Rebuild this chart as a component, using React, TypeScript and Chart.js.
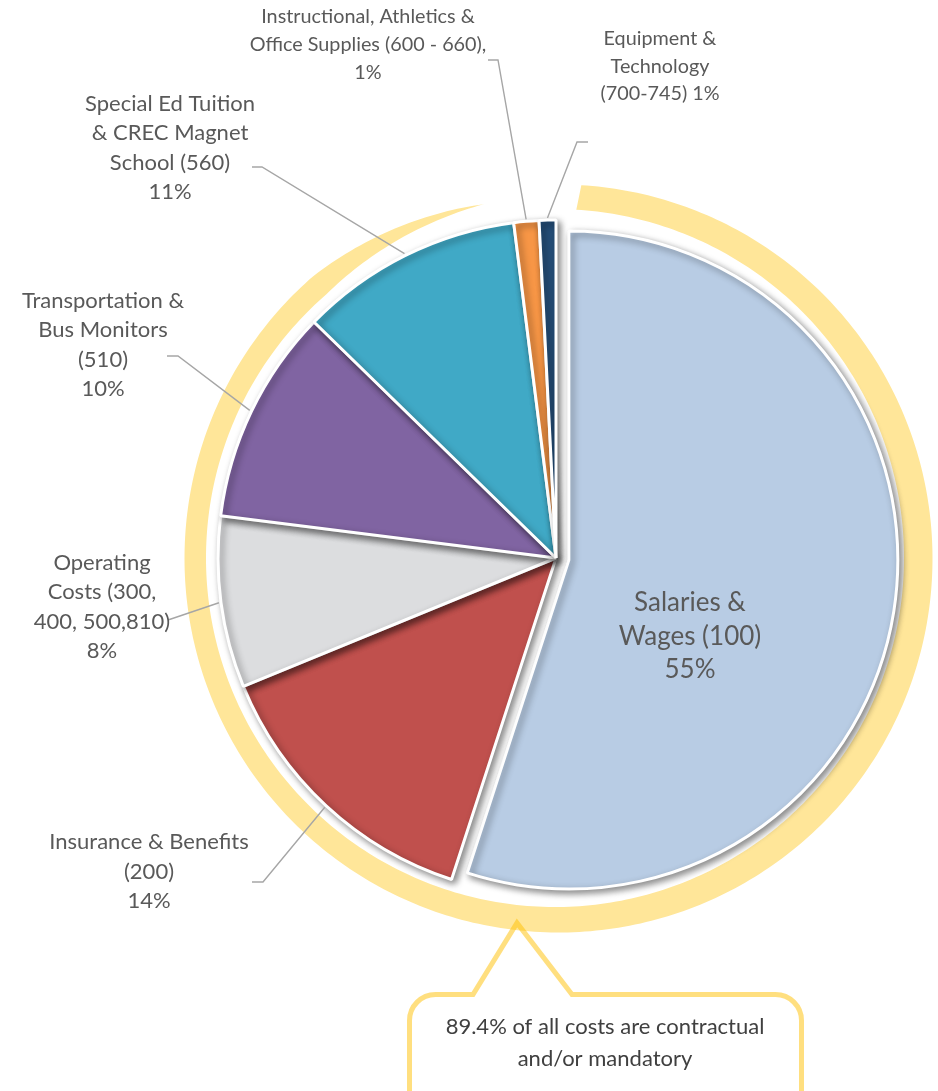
import React, { useEffect, useRef } from "react";
import { Chart, registerables } from "chart.js";

Chart.register(...registerables);

const W = 938;
const H = 1091;

// ---- data ----
const categories: string[][] = [
  ["Salaries &", "Wages (100)"],
  ["Insurance & Benefits", "(200)"],
  ["Operating", "Costs (300,", "400, 500,810)"],
  ["Transportation &", "Bus Monitors", "(510)"],
  ["Special Ed Tuition", "& CREC Magnet", "School (560)"],
  ["Instructional, Athletics &", "Office Supplies (600 - 660),"],
  ["Equipment &", "Technology", "(700-745)"],
];
const values = [55.0, 13.8, 8.2, 10.3, 10.7, 1.2, 0.8];
const sliceColors = ["#B8CCE4", "#C0504D", "#DCDDDF", "#8064A2", "#40A9C6", "#F79646", "#254E78"];
const calloutLines = ["89.4% of all costs are contractual", "and/or mandatory"];

// ---- layout / style ----
const FONT = "Lato, 'Noto Sans', sans-serif";
const LABEL_COLOR = "#595959";
const LEADER_COLOR = "#A6A6A6";
const PIE_RADIUS = 338;
const EXPLODE_INDEX = 0;
const EXPLODE_PX = 13;
const EXPLODE_SHRINK = 9;

type Lay = { x: number; y: number; lh: number; size: number; inline?: boolean; elbow?: number[][] };
const labelLayout: Lay[] = [
  { x: 690, y: 603, lh: 33.5, size: 26 },
  { x: 149, y: 842, lh: 29.5, size: 22, elbow: [[252, 882], [263, 882]] },
  { x: 102, y: 563, lh: 29.3, size: 22, elbow: [[168, 620]] },
  { x: 103, y: 301, lh: 29.3, size: 22, elbow: [[167, 356], [178, 356]] },
  { x: 170, y: 104, lh: 29.3, size: 22, elbow: [[252, 167], [262, 167]] },
  { x: 368, y: 17, lh: 28, size: 19.8, elbow: [[488, 60], [498, 60]] },
  { x: 660, y: 39, lh: 27.5, size: 19.8, inline: true, elbow: [[588, 142], [577, 142]] },
];

const RING = {
  color: "#FFE699",
  outerDx: 2.5, outerDy: 0.5, outerR: PIE_RADIUS + 36,
  innerDx: -1, innerDy: 0, innerR: PIE_RADIUS + 11,
  startDeg: 3.5, taperDeg: 319, endDeg: 348.4,
};

const CALLOUT = {
  left: 409.5, top: 994.5, right: 801.5, bottom: 1130, r: 26,
  ptrLeft: 473, ptrRight: 572, apexX: 517, apexY: 923,
  stroke: "rgba(255,192,0,0.5)", lineWidth: 5,
  textX: 605, textY: 1027, lh: 32, size: 22, color: "#404040",
};

function dir(deg: number) {
  const a = (deg * Math.PI) / 180;
  return [Math.sin(a), -Math.cos(a)];
}

function drawRing(chart: any) {
  const ctx = chart.ctx as CanvasRenderingContext2D;
  const ca = chart.chartArea;
  const cx = (ca.left + ca.right) / 2;
  const cy = (ca.top + ca.bottom) / 2;
  const outer: number[][] = [];
  const inner: number[][] = [];
  const steps = 400;
  for (let i = 0; i <= steps; i++) {
    const deg = RING.startDeg + ((RING.endDeg - RING.startDeg) * i) / steps;
    const [dx, dy] = dir(deg);
    const po = [cx + RING.outerDx + dx * RING.outerR, cy + RING.outerDy + dy * RING.outerR];
    const pi = [cx + RING.innerDx + dx * RING.innerR, cy + RING.innerDy + dy * RING.innerR];
    let t = 1;
    if (deg > RING.taperDeg) t = Math.max(0, (RING.endDeg - deg) / (RING.endDeg - RING.taperDeg));
    const m = [(po[0] + pi[0]) / 2, (po[1] + pi[1]) / 2];
    outer.push([m[0] + (po[0] - m[0]) * t, m[1] + (po[1] - m[1]) * t]);
    inner.push([m[0] + (pi[0] - m[0]) * t, m[1] + (pi[1] - m[1]) * t]);
  }
  ctx.save();
  ctx.beginPath();
  outer.forEach((p, i) => (i === 0 ? ctx.moveTo(p[0], p[1]) : ctx.lineTo(p[0], p[1])));
  for (let i = inner.length - 1; i >= 0; i--) ctx.lineTo(inner[i][0], inner[i][1]);
  ctx.closePath();
  ctx.fillStyle = RING.color;
  ctx.fill();
  ctx.restore();
}

function drawLabels(chart: any) {
  const ctx = chart.ctx as CanvasRenderingContext2D;
  const meta = chart.getDatasetMeta(0);
  const total = values.reduce((a, b) => a + b, 0);
  ctx.save();
  labelLayout.forEach((lay, i) => {
    const el: any = meta.data[i];
    if (lay.elbow && el) {
      const mid = (el.startAngle + el.endAngle) / 2;
      const r = el.outerRadius + 2;
      const ex = el.x + Math.cos(mid) * r;
      const ey = el.y + Math.sin(mid) * r;
      ctx.beginPath();
      ctx.moveTo(lay.elbow[0][0], lay.elbow[0][1]);
      for (let k = 1; k < lay.elbow.length; k++) ctx.lineTo(lay.elbow[k][0], lay.elbow[k][1]);
      ctx.lineTo(ex, ey);
      ctx.strokeStyle = LEADER_COLOR;
      ctx.lineWidth = 1.4;
      ctx.stroke();
    }
    const pct = Math.round((values[i] / total) * 100) + "%";
    const lines = [...categories[i]];
    if (lay.inline) lines[lines.length - 1] += " " + pct;
    else lines.push(pct);
    ctx.font = `${lay.size}px ${FONT}`;
    ctx.fillStyle = LABEL_COLOR;
    ctx.textAlign = "center";
    ctx.textBaseline = "middle";
    lines.forEach((t, k) => ctx.fillText(t, lay.x, lay.y + k * lay.lh));
  });
  ctx.restore();
}

function drawCallout(chart: any) {
  const ctx = chart.ctx as CanvasRenderingContext2D;
  const c = CALLOUT;
  ctx.save();
  ctx.beginPath();
  ctx.moveTo(c.left + c.r, c.top);
  ctx.lineTo(c.ptrLeft, c.top);
  ctx.lineTo(c.apexX, c.apexY);
  ctx.lineTo(c.ptrRight, c.top);
  ctx.lineTo(c.right - c.r, c.top);
  ctx.arcTo(c.right, c.top, c.right, c.top + c.r, c.r);
  ctx.lineTo(c.right, c.bottom - c.r);
  ctx.arcTo(c.right, c.bottom, c.right - c.r, c.bottom, c.r);
  ctx.lineTo(c.left + c.r, c.bottom);
  ctx.arcTo(c.left, c.bottom, c.left, c.bottom - c.r, c.r);
  ctx.lineTo(c.left, c.top + c.r);
  ctx.arcTo(c.left, c.top, c.left + c.r, c.top, c.r);
  ctx.closePath();
  ctx.strokeStyle = c.stroke;
  ctx.lineWidth = c.lineWidth;
  ctx.lineJoin = "miter";
  ctx.stroke();
  ctx.font = `${c.size}px ${FONT}`;
  ctx.fillStyle = c.color;
  ctx.textAlign = "center";
  ctx.textBaseline = "middle";
  calloutLines.forEach((t, k) => ctx.fillText(t, c.textX, c.textY + k * c.lh));
  ctx.restore();
}

const decorPlugin = {
  id: "decor",
  afterDatasetsUpdate(chart: any) {
    const meta = chart.getDatasetMeta(0);
    const el: any = meta.data[EXPLODE_INDEX];
    if (!el) return;
    const mid = (el.startAngle + el.endAngle) / 2;
    el.x += Math.cos(mid) * EXPLODE_PX;
    el.y += Math.sin(mid) * EXPLODE_PX;
    el.outerRadius -= EXPLODE_SHRINK;
  },
  beforeDatasetsDraw(chart: any) {
    drawRing(chart);
  },
  beforeDatasetDraw(chart: any) {
    const ctx = chart.ctx as CanvasRenderingContext2D;
    ctx.save();
    ctx.shadowColor = "rgba(0,0,0,0.45)";
    ctx.shadowBlur = 7;
    ctx.shadowOffsetX = 3;
    ctx.shadowOffsetY = 3;
  },
  afterDatasetDraw(chart: any) {
    chart.ctx.restore();
  },
  afterDatasetsDraw(chart: any) {
    drawLabels(chart);
    drawCallout(chart);
  },
};

export default function App() {
  const ref = useRef<HTMLCanvasElement | null>(null);
  useEffect(() => {
    if (!ref.current) return;
    const chart = new Chart(ref.current, {
      type: "pie",
      data: {
        labels: categories.map((c) => c.join(" ")),
        datasets: [
          {
            data: values,
            backgroundColor: sliceColors,
            borderColor: "#FFFFFF",
            borderWidth: 3,
          },
        ],
      },
      options: {
        responsive: false,
        animation: false,
        events: [],
        radius: PIE_RADIUS,
        layout: { padding: { left: 174, right: 0, top: 25, bottom: 0 } },
        plugins: { legend: { display: false }, tooltip: { enabled: false } },
      } as any,
      plugins: [decorPlugin as any],
    });
    return () => chart.destroy();
  }, []);
  return (
    <div style={{ position: "absolute", left: 0, top: 0, width: W, height: H, overflow: "hidden", background: "#FFFFFF" }}>
      <canvas ref={ref} width={W} height={H} style={{ display: "block", width: W, height: H }} />
    </div>
  );
}
